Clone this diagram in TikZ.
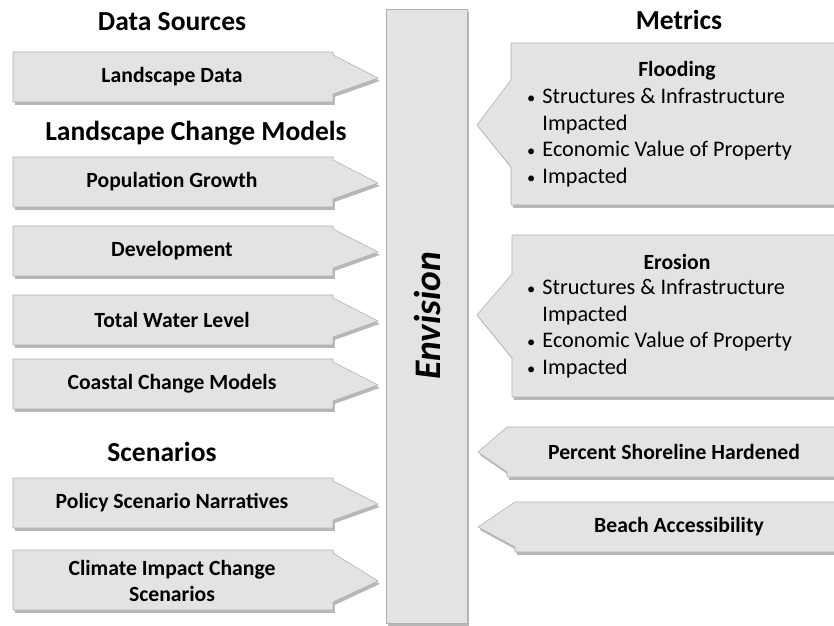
\documentclass[tikz,border=0pt]{standalone}
\usepackage{fontspec}
\setmainfont{Carlito}
\usetikzlibrary{shadows, positioning}
\definecolor{boxgray}{HTML}{E3E3E3}
\definecolor{rimgray}{HTML}{B0B0B0}
\newcommand{\dotitem}{{\fontsize{14}{14}\selectfont\textbullet}}
\tikzset{
  panel/.style={fill=boxgray, draw=rimgray, line width=0.5pt, line join=round,
                drop shadow={shadow xshift=1.5pt, shadow yshift=-2.5pt, opacity=0.4, fill=black!70}},
  lbl/.style={font=\bfseries\fontsize{18.5}{23}\selectfont, align=center, inner sep=0pt},
  grouphead/.style={font=\bfseries\fontsize{23.5}{26}\selectfont, inner sep=0pt},
  bullets/.style={font=\fontsize{19}{23}\selectfont, anchor=north west, inner sep=0pt},
}

\begin{document}
\begin{tikzpicture}[x=0.03cm, y=-0.03cm]
  \useasboundingbox (0,0) rectangle (834,626);
  \clip (0,0) rectangle (834,626);

  % central model bar
  \path[panel] (386,9) rectangle (467,623);
  \node[font=\bfseries\itshape\fontsize{32}{36}\selectfont, rotate=90] (env) at (427,316) {Envision};

  % inputs (left)
  \node[grouphead] (hsrc) at (172,22) {Data Sources};
  \path[panel] (13,52) -- (333,52) -- (333,55) -- (378,78) -- (333,94) -- (333,102) -- (13,102) -- cycle;
  \node[lbl] (land) at (172,77) {Landscape Data};

  \node[grouphead] (hmod) at (196,133) {Landscape Change Models};
  \path[panel] (13,157) -- (333,157) -- (333,160) -- (378,183) -- (333,199) -- (333,207) -- (13,207) -- cycle;
  \node[lbl] (pop) at (172,182) {Population Growth};
  \path[panel] (13,226) -- (333,226) -- (333,229) -- (378,252) -- (333,268) -- (333,276) -- (13,276) -- cycle;
  \node[lbl] (dev) at (172,251) {Development};
  \path[panel] (13,295) -- (333,295) -- (333,298) -- (378,321) -- (333,337) -- (333,345) -- (13,345) -- cycle;
  \node[lbl] (twl) at (172,320) {Total Water Level};
  \path[panel] (13,359) -- (333,359) -- (333,362) -- (378,385) -- (333,401) -- (333,409) -- (13,409) -- cycle;
  \node[lbl] (ccm) at (172,384) {Coastal Change Models};

  \node[grouphead] (hscn) at (162,452) {Scenarios};
  \path[panel] (13,478) -- (333,478) -- (333,481) -- (378,504) -- (333,520) -- (333,528) -- (13,528) -- cycle;
  \node[lbl] (psn) at (172,503) {Policy Scenario Narratives};
  \path[panel] (13,550) -- (333,550) -- (333,553) -- (378,581) -- (333,602) -- (333,610) -- (13,610) -- cycle;
  \node[lbl] (cic) at (172,581) {Climate Impact Change\\Scenarios};

  % outputs (right)
  \node[grouphead] (hmet) at (679,20) {Metrics};
  \path[panel] (511,43) -- (850,43) -- (850,205) -- (511,205) -- (511,167) -- (477,125) -- (511,80) -- cycle;
  \node[lbl] (flood) at (677,71) {Flooding};
  \node[bullets] (floodl) at (527,84) {\begin{tabular}{@{}l@{\hspace{6pt}}l@{}}
    \dotitem & Structures \& Infrastructure\\
             & Impacted\\
    \dotitem & Economic Value of Property\\
    \dotitem & Impacted
  \end{tabular}};

  \path[panel] (512,235) -- (850,235) -- (850,397) -- (512,397) -- (512,358) -- (477,315) -- (512,274) -- cycle;
  \node[lbl] (eros) at (677,262) {Erosion};
  \node[bullets] (erosl) at (527,275) {\begin{tabular}{@{}l@{\hspace{6pt}}l@{}}
    \dotitem & Structures \& Infrastructure\\
             & Impacted\\
    \dotitem & Economic Value of Property\\
    \dotitem & Impacted
  \end{tabular}};

  \path[panel] (507,427) -- (850,427) -- (850,477) -- (507,477) -- (507,472) -- (478,452) -- cycle;
  \node[lbl] (shore) at (674,452) {Percent Shoreline Hardened};
  \path[panel] (515,502) -- (850,502) -- (850,552) -- (515,552) -- (515,547) -- (478,527) -- cycle;
  \node[lbl] (beach) at (679,527) {Beach Accessibility};
\end{tikzpicture}
\end{document}
